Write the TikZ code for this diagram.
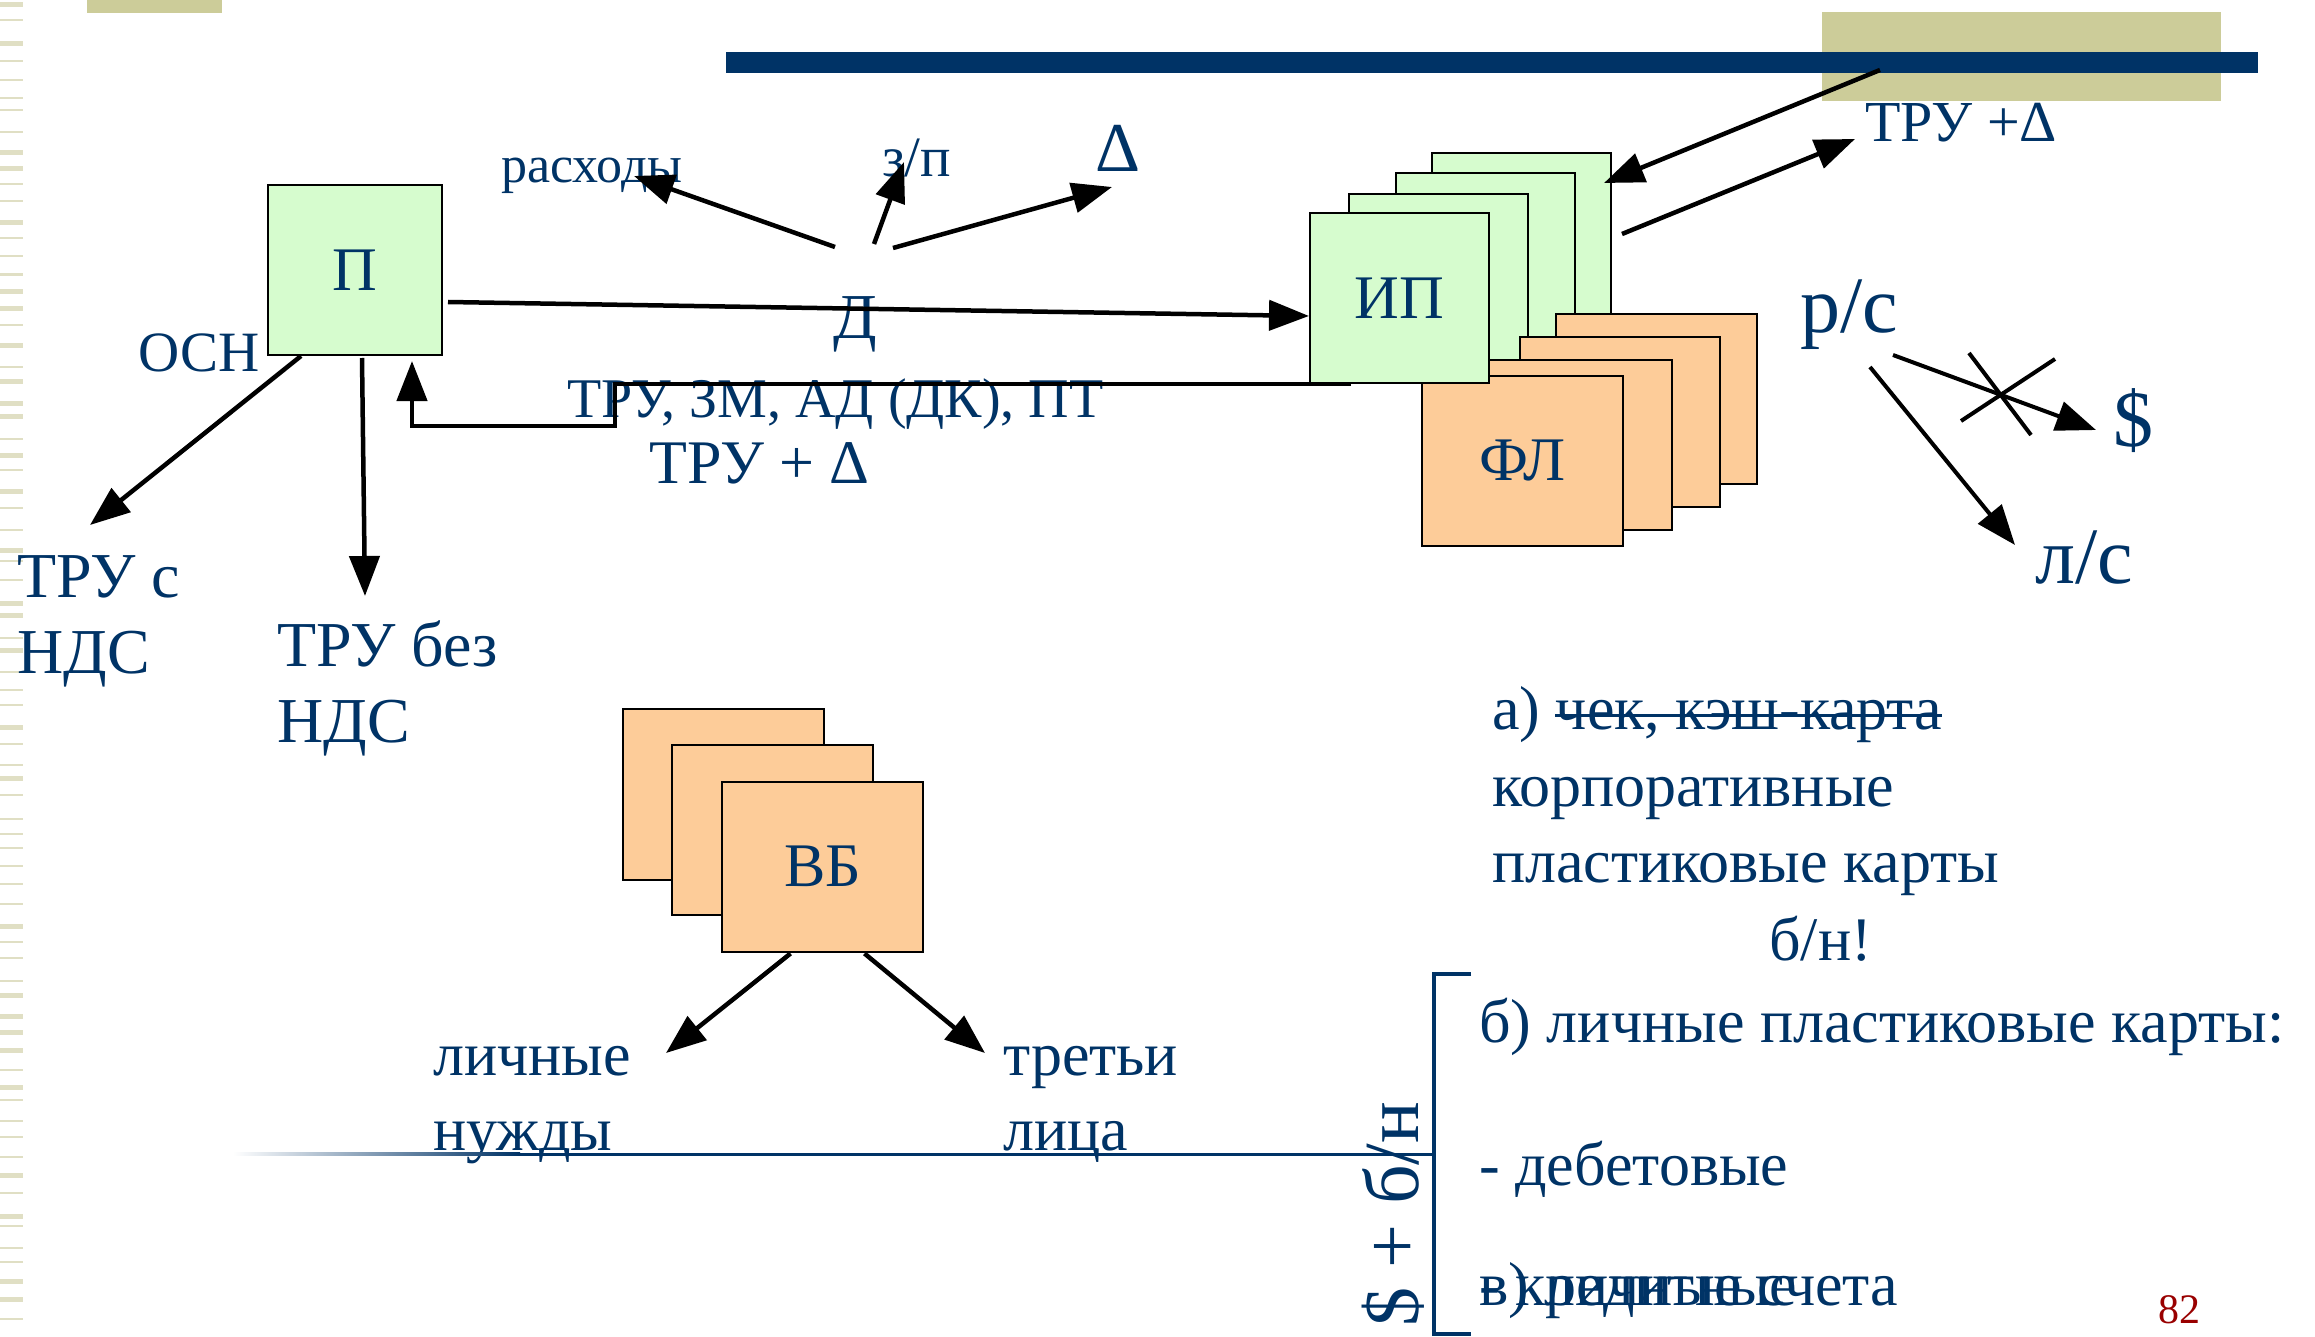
\documentclass[tikz,border=0pt]{standalone}
\usepackage{fontspec}
\setmainfont{Liberation Serif}
\usetikzlibrary{arrows.meta,calc}

\definecolor{navy}{RGB}{0,51,102}
\definecolor{khaki}{RGB}{204,204,153}
\definecolor{stripe}{RGB}{224,223,196}
\definecolor{paleGreen}{RGB}{214,252,206}
\definecolor{peach}{RGB}{253,204,153}
\definecolor{pageRed}{RGB}{153,0,0}

% font size in pt (1pt = 1 unit of the picture)
\newcommand\fsz[1]{\fontsize{#1}{#1}\selectfont}
% two stacked lines whose first baseline is the box baseline
\newcommand\twolines[3]{\vtop{\baselineskip=#1pt\lineskiplimit=-200pt\hbox{#2}\hbox{#3}}}

\begin{document}
\begin{tikzpicture}[x=1pt,y=-1pt,
  card/.style={draw=black, line width=2pt, minimum height=170pt, inner sep=0pt, text=navy},
  greencard/.style={card, fill=paleGreen, minimum width=179pt},
  peachcard/.style={card, fill=peach, minimum width=201pt},
  lbl/.style={text=navy, inner sep=0pt, anchor=base west},
  arr/.style={-{Triangle[length=40pt,width=30pt]}, line width=4.5pt, black},
  thinarr/.style={arr, line width=4pt},
]
\useasboundingbox (0,0) rectangle (2315,1337);
\fill[white] (0,0) rectangle (2315,1337);

% striped left margin
\pgfmathsetseed{42}
\foreach \k in {0,...,74}{
  \pgfmathsetmacro{\yy}{\k*18+rnd*8}
  \pgfmathsetmacro{\hh}{rnd<0.35 ? 5 : 2.2}
  \fill[stripe] (0,\yy) rectangle (23,\yy+\hh);
}

% header decoration
\fill[khaki] (87,0) rectangle (222,13);
\fill[khaki] (1822,12) rectangle (2221,101);
\fill[navy] (726,52) rectangle (2258,73);

% ---- enterprise
\node[greencard, minimum width=174pt, font=\fsz{62}] (P) at (355,270) {П};

% ---- entrepreneurs (green stack) and individuals (peach stack)
\node[greencard] (g1) at (1521.5,238) {};
\node[greencard] (g2) at (1485.5,258) {};
\node[greencard] (g3) at (1438.5,279) {};
\node[peachcard] (o1) at (1656.5,399) {};
\node[peachcard, minimum width=200pt] (o2) at (1620,422) {};
\node[peachcard, minimum width=200pt] (o3) at (1572,445) {};
\node[peachcard, font=\fsz{62}] (FL) at (1522.5,461) {ФЛ};
\node[greencard, font=\fsz{62}] (IP) at (1399.5,298) {ИП};

% ---- other banks
\node[peachcard, minimum height=171pt] (v1) at (723.5,794.5) {};
\node[peachcard] (v2) at (772.5,830) {};
\node[peachcard, font=\fsz{62}] (VB) at (822.5,866.5) {ВБ};

% ---- labels
\node[lbl, font=\fsz{57}] (osn) at (138,372) {ОСН};
\node[lbl, font=\fsz{64}] (trus) at (17,597) {\twolines{76}{ТРУ с}{НДС}};
\node[lbl, font=\fsz{64}] (trub) at (277,666) {\twolines{76}{ТРУ без}{НДС}};
\node[lbl, font=\fsz{52}] (rash) at (501,183) {расходы};
\node[lbl, font=\fsz{57}] (zp) at (882,177) {з/п};
\node[lbl, font=\fsz{70}] (delta) at (1095,172) {Δ};
\node[lbl, font=\fsz{64}] (D) at (833,339) {Д};
\node[lbl, font=\fsz{56}] (trulist) at (567,417) {ТРУ, ЗМ, АД (ДК), ПТ};
\node[lbl, font=\fsz{62}] (truplus) at (649,483) {ТРУ + Δ};
\node[lbl, font=\fsz{58}] (trutop) at (1865,142) {ТРУ +Δ};
\node[lbl, font=\fsz{80}] (rs) at (1800,333) {р/с};
\node[lbl, font=\fsz{80}] (dollar) at (2113,446) {\$};
\node[lbl, font=\fsz{80}] (ls) at (2035,583) {л/с};
\node[lbl, font=\fsz{62}] (lichn) at (433,1075) {\twolines{75}{личные}{нужды}};
\node[lbl, font=\fsz{62}] (tret) at (1003,1075) {\twolines{75}{третьи}{лица}};

% ---- payment instruments
\node[lbl, font=\fsz{62}] (pa) at (1492,729) {а) чек, кэш-карта};
\draw[navy, line width=3pt] ($(pa.base west)+(63,-14)$) -- ($(pa.base east)+(0,-14)$);
\node[lbl, font=\fsz{62}] (pa2) at (1492,806) {корпоративные};
\node[lbl, font=\fsz{62}] (pa3) at (1492,882) {пластиковые карты};
\node[lbl, font=\fsz{62}] (pa4) at (1769,960) {б/н!};
\node[lbl, font=\fsz{62}] (pb) at (1479,1042) {б) личные пластиковые карты:};
\node[lbl, font=\fsz{62}] (pb2) at (1479,1185) {- дебетовые};
\node[lbl, font=\fsz{62}] (pv) at (1479,1305) {в) личные счета};
\node[lbl, font=\fsz{62}] (pb3) at (1479,1305) {- кредитные};
\node[lbl, font=\fsz{78}, rotate=90] (cash) at (1418,1327) {\$ + б/н};
\node[lbl, font=\fsz{42}, text=pageRed] (pnum) at (2158,1323) {82};

% fading rule and bracket
\shade[left color=white, right color=navy] (233,1152.5) rectangle (520,1155.5);
\fill[navy] (520,1152.5) rectangle (1434,1155.5);
\draw[navy, line width=4pt] (1471,974) -- (1434,974) -- (1434,1334) -- (1471,1334);

% ---- connectors
\coordinate (tipS) at (90,525);
\coordinate (tipB) at (365,596);
\coordinate (d1) at (835,247);
\coordinate (d2) at (874,244);
\coordinate (d3) at (893,248);
\coordinate (tipR) at (634,176);
\coordinate (tipZ) at (904,162);
\coordinate (tipD) at (1112,187);
\coordinate (barEnd) at (1880,70);
\coordinate (tipT) at (1855,139);
\coordinate (rsA) at (1893,355);
\coordinate (rsB) at (1870,367);
\coordinate (tipDol) at (2096,430);
\coordinate (tipLs) at (2015,545);
\coordinate (tipL) at (666,1053);
\coordinate (tipTr) at (985,1053);

\draw[arr] ($(P.east)+(5,32)$) -- ($(IP.west)+(0,18)$);
\draw[arr] ($(IP.south west)+(42,0)$) -- ++(-736,0) -- ++(0,42) -| ($(P.south east)+(-31,5)$);
\draw[arr] ($(P.south west)+(34,0)$) -- (tipS);
\draw[arr] ($(P.south)+(7,2)$) -- (tipB);

\draw[arr] (d1) -- (tipR);
\draw[arr] (d2) -- (tipZ);
\draw[arr] (d3) -- (tipD);

\draw[arr] (barEnd) -- ($(g1.north east)+(-8,31)$);
\draw[arr] ($(g1.east)+(10,-4)$) -- (tipT);

\draw[thinarr] (rsA) -- (tipDol);
\draw[thinarr] (rsB) -- (tipLs);
\draw[line width=4pt] (1969,353) -- (2031,435);
\draw[line width=4pt] (1961,421) -- (2055,359);

\draw[arr] ($(VB.south)+(-32,1)$) -- (tipL);
\draw[arr] ($(VB.south)+(42,1)$) -- (tipTr);
\end{tikzpicture}
\end{document}
